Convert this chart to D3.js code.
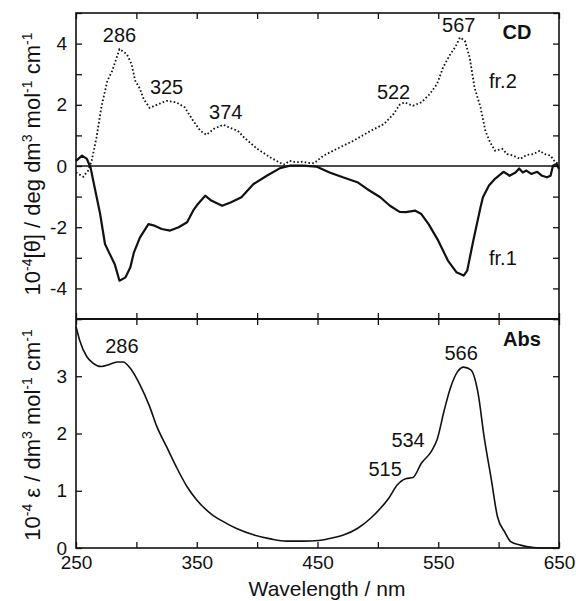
<!DOCTYPE html>
<html>
<head>
<meta charset="utf-8">
<script src="https://cdn.jsdelivr.net/npm/d3@7"></script>
<style>
    body { margin: 0; background: #fff; }
    svg text { font-family: "Liberation Sans", Arial, Helvetica, sans-serif; fill: #111; }
</style>
</head>
<body>
<svg id="chart" width="576" height="601"></svg>
<script>
// CD spectrum, fraction 2 (dotted) [nm, 10^-4 theta]
const fr2 = [
    [250, -0.21], [256, -0.35], [260, -0.15], [263, 0.17], [267, 0.94], [271, 1.92],
    [276, 2.79], [280, 3.11], [286, 3.82], [292, 3.66], [296, 3.33], [299, 2.79],
    [303, 2.52], [306, 2.19], [311, 1.9], [317, 2.0], [325, 2.13], [333, 2.08],
    [340, 1.92], [347, 1.48], [353, 1.15], [358, 1.02], [364, 1.21], [372, 1.35],
    [378, 1.24], [384, 1.15], [389, 0.94], [400, 0.56], [411, 0.28], [422, 0.04],
    [427, 0.17], [432, 0.12], [438, 0.14], [442, 0.1], [447, 0.09], [455, 0.34],
    [466, 0.56], [480, 0.83], [494, 1.15], [505, 1.37], [513, 1.7], [518, 2.0],
    [522, 2.08], [529, 1.97], [536, 2.08], [543, 2.35], [549, 2.68], [554, 3.22],
    [560, 3.66], [564, 3.88], [568, 4.2], [572, 4.09], [576, 3.55], [580, 2.57],
    [585, 1.92], [589, 1.15], [593, 0.77], [597, 0.5], [603, 0.56], [607, 0.39],
    [612, 0.34], [618, 0.23], [623, 0.36], [629, 0.39], [634, 0.5], [638, 0.39],
    [643, 0.34], [647, 0.12], [650, 0.07]
];

// CD spectrum, fraction 1 (solid)
const fr1 = [
    [250, 0.17], [255, 0.34], [259, 0.23], [262, -0.04], [266, -0.81], [270, -1.57],
    [274, -2.55], [278, -2.88], [282, -3.2], [286, -3.75], [291, -3.64], [295, -3.31],
    [298, -2.82], [303, -2.33], [310, -1.9], [315, -1.95], [321, -2.06], [328, -2.11],
    [335, -2.0], [342, -1.84], [347, -1.46], [351, -1.24], [357, -0.97], [362, -1.13],
    [371, -1.3], [378, -1.19], [384, -1.08], [387, -1.02], [397, -0.59], [408, -0.32],
    [419, -0.07], [427, 0.01], [438, 0.01], [449, -0.02], [460, -0.21], [471, -0.37],
    [483, -0.53], [491, -0.75], [502, -1.02], [510, -1.3], [518, -1.5], [523, -1.51],
    [531, -1.46], [536, -1.57], [542, -1.9], [550, -2.44], [558, -3.09], [565, -3.47],
    [571, -3.58], [574, -3.42], [579, -2.44], [585, -1.35], [587, -1.02], [592, -0.64],
    [597, -0.42], [601, -0.29], [604, -0.19], [607, -0.26], [609, -0.32], [614, -0.21],
    [617, -0.08], [620, -0.21], [623, -0.15], [627, -0.26], [632, -0.19], [636, -0.32],
    [640, -0.37], [643, -0.32], [645, 0.01], [648, 0.07], [650, -0.1]
];

// absorption spectrum [nm, 10^-4 epsilon]
const abs = [
    [250, 3.87], [253, 3.63], [259, 3.34], [264, 3.23], [271, 3.17], [277, 3.2],
    [284, 3.25], [289, 3.25], [295, 3.14], [303, 2.85], [311, 2.47], [317, 2.12],
    [325, 1.77], [333, 1.42], [342, 1.07], [350, 0.84], [361, 0.61], [372, 0.46],
    [383, 0.34], [397, 0.23], [411, 0.16], [424, 0.12], [438, 0.12], [451, 0.13],
    [461, 0.17], [472, 0.23], [483, 0.34], [494, 0.52], [502, 0.69], [509, 0.87],
    [516, 1.1], [523, 1.21], [529, 1.23], [536, 1.48], [544, 1.68], [549, 1.89],
    [555, 2.41], [560, 2.79], [566, 3.08], [571, 3.16], [577, 3.11], [583, 2.7],
    [588, 1.94], [594, 1.19], [599, 0.55], [605, 0.28], [610, 0.11], [618, 0.05],
    [629, 0.01], [640, 0], [650, 0]
];

const xTicks = d3.range(250, 651, 50);
const xTickLabels = [250, 350, 450, 550, 650];
const cdTicks = d3.range(-5, 6, 1);
const cdTickLabels = [-4, -2, 0, 2, 4];
const absTicks = [0, 1, 2, 3, 4];
const absTickLabels = [0, 1, 2, 3];

// peak annotations [text, nm, value] - anchor of the label's baseline centre
const cdPeaks = [["286", 286, 4.05], ["325", 325, 2.35], ["374", 374, 1.54], ["522", 513, 2.19], ["567", 567, 4.38]];
const absPeaks = [["286", 288, 3.41], ["566", 569, 3.28], ["534", 525, 1.76], ["515", 506, 1.25]];

const svg = d3.select("#chart");
const plotLeft = 76, plotRight = 559, plotTop = 13, plotMid = 319, plotBottom = 548;

const x = d3.scaleLinear().domain([250, 650]).range([plotLeft, plotRight]);
const yCd = d3.scaleLinear().domain([-5, 5]).range([plotMid, plotTop]);
const yAbs = d3.scaleLinear().domain([0, 4]).range([plotBottom, plotMid]);

const fmt = d => String(d);
const tickLen = 6;

function styleAxis(g) {
    g.select(".domain").remove();
    g.selectAll(".tick line").attr("stroke", "#111").attr("stroke-width", 1.3);
    g.selectAll(".tick text")
        .attr("font-size", 19)
        .attr("fill", "#111");
}

// left axes
svg.append("g")
    .attr("transform", `translate(${plotLeft},0)`)
    .call(d3.axisLeft(yCd).tickValues(cdTicks).tickSize(-tickLen).tickPadding(9)
        .tickFormat(d => (cdTickLabels.includes(d) ? fmt(d) : "")))
    .call(styleAxis);

svg.append("g")
    .attr("transform", `translate(${plotLeft},0)`)
    .call(d3.axisLeft(yAbs).tickValues(absTicks).tickSize(-tickLen).tickPadding(9)
        .tickFormat(d => (absTickLabels.includes(d) ? fmt(d) : "")))
    .call(styleAxis);

// right axes
svg.append("g")
    .attr("transform", `translate(${plotRight},0)`)
    .call(d3.axisRight(yCd).tickValues(cdTicks).tickSize(-tickLen).tickFormat(""))
    .call(styleAxis);

svg.append("g")
    .attr("transform", `translate(${plotRight},0)`)
    .call(d3.axisRight(yAbs).tickValues(absTicks).tickSize(-tickLen).tickFormat(""))
    .call(styleAxis);

// x axes: bottom, top, and both sides of the panel divider
svg.append("g")
    .attr("transform", `translate(0,${plotBottom})`)
    .call(d3.axisBottom(x).tickValues(xTicks).tickSize(-tickLen).tickPadding(8)
        .tickFormat(d => (xTickLabels.includes(d) ? fmt(d) : "")))
    .call(styleAxis);

svg.append("g")
    .attr("transform", `translate(0,${plotTop})`)
    .call(d3.axisTop(x).tickValues(xTicks).tickSize(-tickLen).tickFormat(""))
    .call(styleAxis);

svg.append("g")
    .attr("transform", `translate(0,${plotMid})`)
    .call(d3.axisTop(x).tickValues(xTicks).tickSize(tickLen).tickFormat(""))
    .call(styleAxis);

svg.append("g")
    .attr("transform", `translate(0,${plotMid})`)
    .call(d3.axisBottom(x).tickValues(xTicks).tickSize(tickLen).tickFormat(""))
    .call(styleAxis);

// frames
svg.append("rect")
    .attr("x", plotLeft)
    .attr("y", plotTop)
    .attr("width", plotRight - plotLeft)
    .attr("height", plotBottom - plotTop)
    .attr("fill", "none")
    .attr("stroke", "#111")
    .attr("stroke-width", 1.6);

svg.append("line")
    .attr("x1", plotLeft).attr("x2", plotRight)
    .attr("y1", plotMid).attr("y2", plotMid)
    .attr("stroke", "#111")
    .attr("stroke-width", 2);

// zero line of CD
svg.append("line")
    .attr("x1", plotLeft).attr("x2", plotRight)
    .attr("y1", yCd(0)).attr("y2", yCd(0))
    .attr("stroke", "#111")
    .attr("stroke-width", 1.3);

const cdLine = d3.line().x(d => x(d[0])).y(d => yCd(d[1]));
const absLine = d3.line().x(d => x(d[0])).y(d => yAbs(d[1])).curve(d3.curveMonotoneX);

svg.append("path")
    .datum(fr2)
    .attr("d", cdLine)
    .attr("fill", "none")
    .attr("stroke", "#111")
    .attr("stroke-width", 1.8)
    .attr("stroke-dasharray", "1.6,2.2");

svg.append("path")
    .datum(fr1)
    .attr("d", cdLine)
    .attr("fill", "none")
    .attr("stroke", "#111")
    .attr("stroke-width", 2.2)
    .attr("stroke-linejoin", "round");

svg.append("path")
    .datum(abs)
    .attr("d", absLine)
    .attr("fill", "none")
    .attr("stroke", "#111")
    .attr("stroke-width", 1.6);

// peak labels
svg.selectAll(".cd-peak")
    .data(cdPeaks)
    .join("text")
    .attr("class", "cd-peak")
    .attr("x", d => x(d[1]))
    .attr("y", d => yCd(d[2]))
    .attr("text-anchor", "middle")
    .attr("font-size", 20)
    .text(d => d[0]);

svg.selectAll(".abs-peak")
    .data(absPeaks)
    .join("text")
    .attr("class", "abs-peak")
    .attr("x", d => x(d[1]))
    .attr("y", d => yAbs(d[2]))
    .attr("text-anchor", "middle")
    .attr("font-size", 20)
    .text(d => d[0]);

// panel labels
svg.append("text").attr("x", 517).attr("y", 39).attr("text-anchor", "middle")
    .attr("font-size", 20).attr("font-weight", "bold").text("CD");
svg.append("text").attr("x", 522).attr("y", 346).attr("text-anchor", "middle")
    .attr("font-size", 20).attr("font-weight", "bold").text("Abs");
svg.append("text").attr("x", 489).attr("y", 88).attr("font-size", 20).text("fr.2");
svg.append("text").attr("x", 489).attr("y", 265).attr("font-size", 20).text("fr.1");

// axis titles with superscripts
function axisTitle(cx, cy, parts) {
    const t = svg.append("text")
        .attr("transform", `translate(${cx},${cy}) rotate(-90)`)
        .attr("text-anchor", "middle")
        .attr("font-size", 22);
    for (let [s, sup] of parts) {
        t.append("tspan")
            .attr("font-size", sup ? 14 : 22)
            .attr("baseline-shift", sup ? "55%" : null)
            .text(s);
    }
}

axisTitle(40, 164, [["10", 0], ["-4", 1], ["[θ] / deg dm", 0], ["3", 1], [" mol", 0], ["-1", 1], [" cm", 0], ["-1", 1]]);
axisTitle(40, 435, [["10", 0], ["-4", 1], [" ε / dm", 0], ["3", 1], [" mol", 0], ["-1", 1], [" cm", 0], ["-1", 1]]);

svg.append("text")
    .attr("x", 327)
    .attr("y", 596)
    .attr("text-anchor", "middle")
    .attr("font-size", 21)
    .text("Wavelength / nm");
</script>
</body>
</html>
